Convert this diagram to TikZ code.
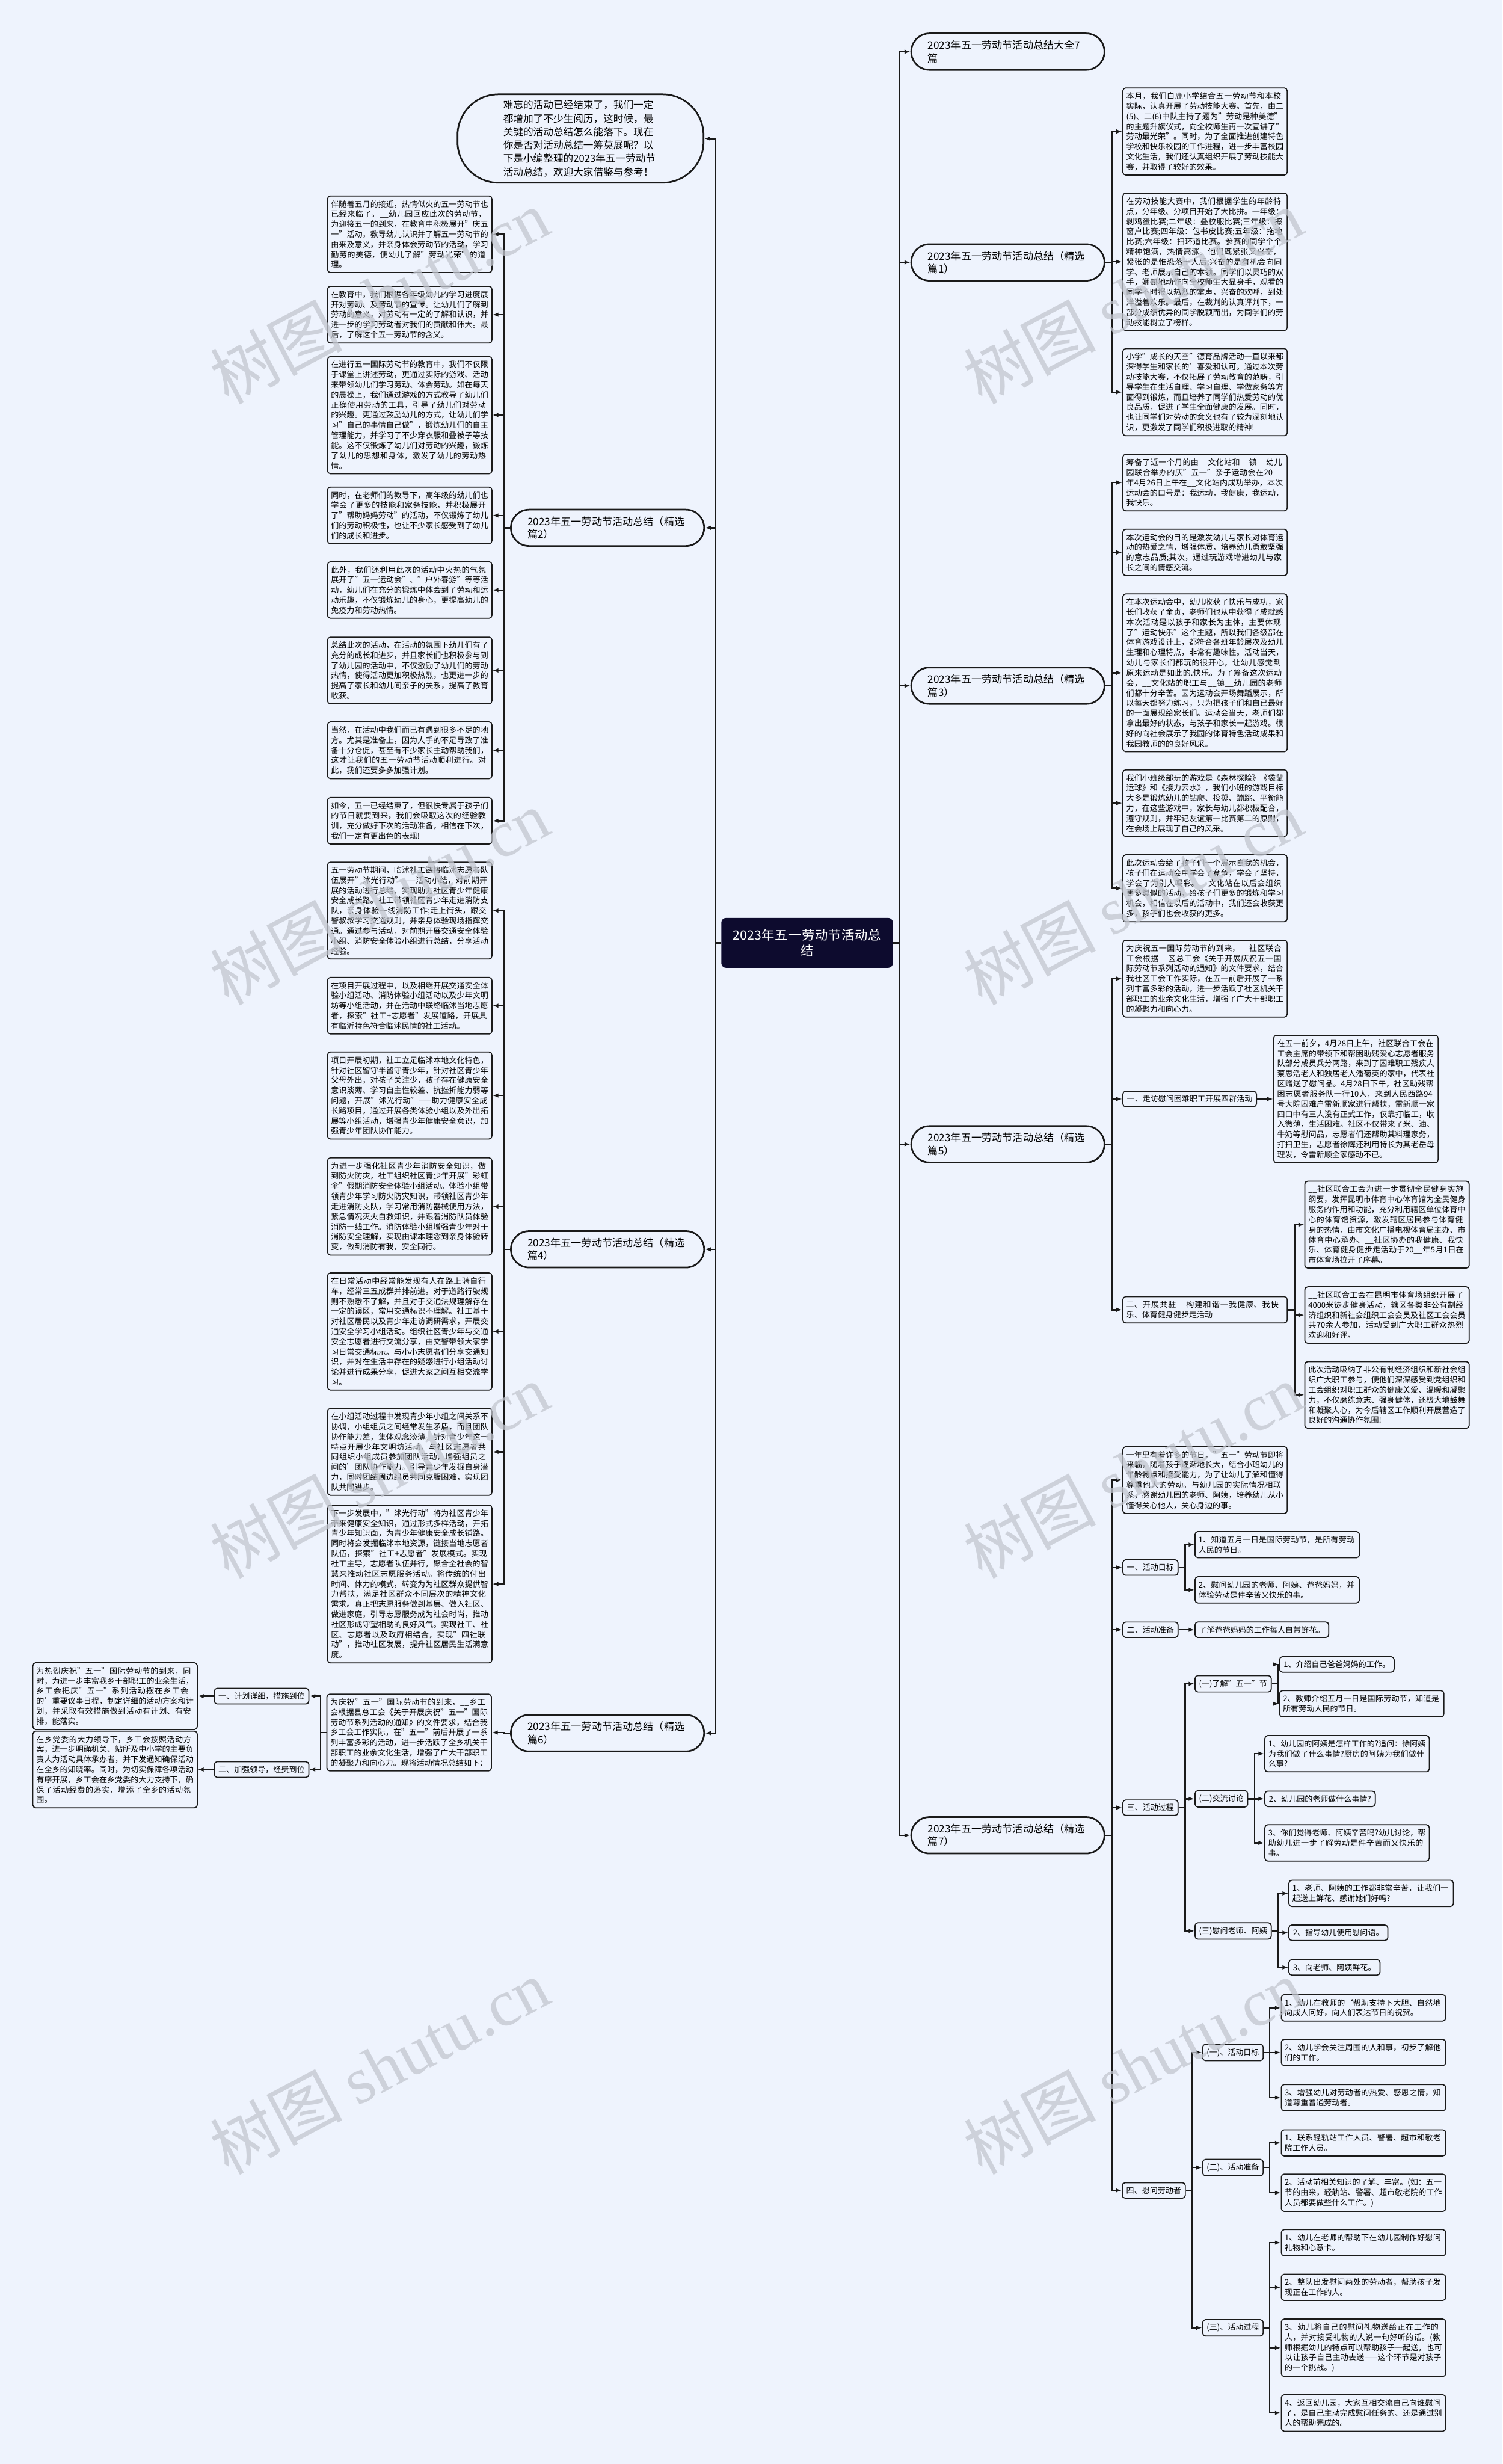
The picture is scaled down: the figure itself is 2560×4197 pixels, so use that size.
\documentclass[tikz,border=0pt]{standalone}
\usepackage{fontspec}
\usepackage{tikz}
\usetikzlibrary{arrows.meta}
\setmainfont{Noto Sans CJK SC}
\newfontfamily\filigranYazi{Liberation Serif}
\XeTeXlinebreaklocale "zh"
\XeTeXlinebreakskip=0pt plus 1pt
\definecolor{arkaPlan}{HTML}{EEF3FD}
\definecolor{lacivert}{HTML}{0D0B2E}
\definecolor{cizgiRengi}{HTML}{1A1A1A}
\definecolor{filigranGri}{HTML}{C2C6CF}

\begin{document}
\begin{tikzpicture}[x=0.01cm,y=-0.01cm,
  kutu/.style={draw=cizgiRengi,line width=0.5pt,rounded corners=0.05cm,fill=arkaPlan,text width=2.68cm,inner xsep=0.06cm,inner ysep=0.075cm,align=left,font=\fontsize{3.8pt}{4.9pt}\selectfont},
  etiket/.style={draw=cizgiRengi,line width=0.5pt,rounded corners=0.05cm,fill=arkaPlan,inner xsep=0.07cm,inner ysep=0.07cm,font=\fontsize{3.8pt}{4.9pt}\selectfont},
  baslik/.style={draw=cizgiRengi,line width=0.8pt,rounded corners=0.31cm,fill=arkaPlan,text width=2.72cm,inner xsep=0.285cm,minimum height=0.62cm,align=left,font=\fontsize{5pt}{6.2pt}\selectfont},
  giris/.style={draw=cizgiRengi,line width=0.8pt,rounded corners=0.7cm,fill=arkaPlan,text width=2.63cm,inner xsep=0.78cm,inner ysep=0.1cm,align=left,font=\fontsize{4.85pt}{6.5pt}\selectfont},
  merkez/.style={fill=lacivert,rounded corners=0.08cm,text=white,text width=2.75cm,inner xsep=0.085cm,minimum height=0.85cm,align=center,font=\fontsize{6.2pt}{7.6pt}\selectfont},
  ok/.style={draw=cizgiRengi,line width=0.7pt,-{Latex[length=0.1cm,width=0.075cm]}},
  filigran/.style={text=filigranGri,opacity=0.75,rotate=28,font=\fontsize{32pt}{32pt}\selectfont}]
\fill[arkaPlan] (0,0) rectangle (2560,4197);
\useasboundingbox (0,0) rectangle (2560,4197);

% orta dugum
\node[merkez] (kok) at (1375,1606) {2023年五一劳动节活动总\\结};

% sag taraf
\node[baslik,anchor=west] (p0) at (1551,88) {2023年五一劳动节活动总结大全7\\篇};
\node[baslik,anchor=west] (p1) at (1551,447) {2023年五一劳动节活动总结（精选\\篇1）};
\node[kutu,anchor=west] (b11) at (1912,224) {本月，我们白鹿小学结合五一劳动节和本校实际，认真开展了劳动技能大赛。首先，由二(5)、二(6)中队主持了题为"劳动是种美德"的主题升旗仪式，向全校师生再一次宣讲了"劳动最光荣"。同时，为了全面推进创建特色学校和快乐校园的工作进程，进一步丰富校园文化生活，我们还认真组织开展了劳动技能大赛，并取得了较好的效果。};
\node[kutu,anchor=west] (b12) at (1912,446) {在劳动技能大赛中，我们根据学生的年龄特点，分年级、分项目开始了大比拼。一年级：剥鸡蛋比赛;二年级：叠校服比赛;三年级：擦窗户比赛;四年级：包书皮比赛;五年级：拖地比赛;六年级：扫环道比赛。参赛的同学个个精神饱满，热情高涨。他们既紧张又兴奋，紧张的是惟恐落于人后;兴奋的是有机会向同学、老师展示自己的本领。同学们以灵巧的双手，娴熟地动作向全校师生大显身手，观看的同学不时报以热烈的掌声，兴奋的欢呼，到处洋溢着欢乐。最后，在裁判的认真评判下，一部分成绩优异的同学脱颖而出，为同学们的劳动技能树立了榜样。};
\node[kutu,anchor=west] (b13) at (1912,668) {小学"成长的天空"德育品牌活动一直以来都深得学生和家长的'喜爱和认可。通过本次劳动技能大赛，不仅拓展了劳动教育的范畴，引导学生在生活自理、学习自理、学做家务等方面得到锻炼，而且培养了同学们热爱劳动的优良品质，促进了学生全面健康的发展。同时，也让同学们对劳动的意义也有了较为深刻地认识，更激发了同学们积极进取的精神!};

\node[baslik,anchor=west] (p3) at (1551,1168) {2023年五一劳动节活动总结（精选\\篇3）};
\node[kutu,anchor=west] (c31) at (1912,822) {筹备了近一个月的由\_\_文化站和\_\_镇\_\_幼儿园联合举办的庆"五一"亲子运动会在20\_\_年4月26日上午在\_\_文化站内成功举办，本次运动会的口号是：我运动，我健康，我运动，我快乐。};
\node[kutu,anchor=west] (c32) at (1912,941) {本次运动会的目的是激发幼儿与家长对体育运动的热爱之情，增强体质，培养幼儿勇敢坚强的意志品质;其次，通过玩游戏增进幼儿与家长之间的情感交流。};
\node[kutu,anchor=west] (c33) at (1912,1146) {在本次运动会中，幼儿收获了快乐与成功，家长们收获了童贞，老师们也从中获得了成就感 本次活动是以孩子和家长为主体，主要体现了"运动快乐"这个主题，所以我们各级部在体育游戏设计上，都符合各班年龄层次及幼儿生理和心理特点，非常有趣味性。活动当天，幼儿与家长们都玩的很开心，让幼儿感觉到原来运动是如此的.快乐。为了筹备这次运动会，\_\_文化站的职工与\_\_镇\_\_幼儿园的老师们都十分辛苦。因为运动会开场舞蹈展示，所以每天都努力练习，只为把孩子们和自已最好的一面展现给家长们。运动会当天，老师们都拿出最好的状态，与孩子和家长一起游戏。很好的向社会展示了我园的体育特色活动成果和我园教师的的良好风采。};
\node[kutu,anchor=west] (c34) at (1912,1368) {我们小班级部玩的游戏是《森林探险》《袋鼠运球》和《接力云水》，我们小班的游戏目标大多是锻炼幼儿的钻爬、投掷、蹦跳、平衡能力，在这些游戏中，家长与幼儿都积极配合，遵守规则，并牢记友谊第一比赛第二的原则，在会场上展现了自己的风采。};
\node[kutu,anchor=west] (c35) at (1912,1513) {此次运动会给了孩子们一个展示自我的机会，孩子们在运动会中学会了竞争，学会了坚持，学会了为别人喝彩。\_\_文化站在以后会组织更多类似的活动，给孩子们更多的锻炼和学习机会，相信在以后的活动中，我们还会收获更多，孩子们也会收获的更多。};

\node[baslik,anchor=west] (p5) at (1551,1949) {2023年五一劳动节活动总结（精选\\篇5）};
\node[kutu,anchor=west] (d51) at (1912,1667) {为庆祝五一国际劳动节的到来，\_\_社区联合工会根据\_\_区总工会《关于开展庆祝五一国际劳动节系列活动的通知》的文件要求，结合我社区工会工作实际，在五一前后开展了一系列丰富多彩的活动，进一步活跃了社区机关干部职工的业余文化生活，增强了广大干部职工的凝聚力和向心力。};
\node[etiket,anchor=west] (d52) at (1912,1872) {一、走访慰问困难职工开展四群活动};
\node[kutu,anchor=west] (d52a) at (2169,1872) {在五一前夕，4月28日上午，社区联合工会在工会主席的带领下和帮困助残爱心志愿者服务队部分成员兵分两路，来到了困难职工残疾人蔡思浩老人和独居老人潘菊英的家中，代表社区赠送了慰问品。4月28日下午，社区助残帮困志愿者服务队一行10人，来到人民西路94号大院困难户雷新顺家进行帮扶，雷新顺一家四口中有三人没有正式工作，仅靠打临工，收入微薄，生活困难。社区不仅带来了米、油、牛奶等慰问品，志愿者们还帮助其料理家务，打扫卫生，志愿者徐辉还利用特长为其老岳母理发，令雷新顺全家感动不已。};
\node[kutu,anchor=west] (d53) at (1912,2231) {二、开展共驻\_\_构建和谐一我健康、我快乐、体育健身健步走活动};
\node[kutu,anchor=west] (d53a) at (2222,2086) {\_\_社区联合工会为进一步贯彻全民健身实施纲要，发挥昆明市体育中心体育馆为全民健身服务的作用和功能，充分利用辖区单位体育中心的体育馆资源，激发辖区居民参与体育健身的热情，由市文化广播电视体育局主办、市体育中心承办、\_\_社区协办的我健康、我快乐、体育健身健步走活动于20\_\_年5月1日在市体育场拉开了序幕。};
\node[kutu,anchor=west] (d53b) at (2222,2240) {\_\_社区联合工会在昆明市体育场组织开展了4000米徒步健身活动，辖区各类非公有制经济组织和新社会组织工会会员及社区工会会员共70余人参加，活动受到广大职工群众热烈欢迎和好评。};
\node[kutu,anchor=west] (d53c) at (2222,2376) {此次活动吸纳了非公有制经济组织和新社会组织广大职工参与，使他们深深感受到党组织和工会组织对职工群众的健康关爱、温暖和凝聚力，不仅磨练意志、强身健体，还极大地鼓舞和凝聚人心，为今后辖区工作顺利开展营造了良好的沟通协作氛围!};

\node[baslik,anchor=west] (p7) at (1551,3126) {2023年五一劳动节活动总结（精选\\篇7）};
\node[kutu,anchor=west] (e1) at (1912,2521) {一年里有着许多的节日，"五一"劳动节即将来临，随着孩子逐渐地长大，结合小班幼儿的年龄特点和接爱能力，为了让幼儿了解和懂得尊重他人的劳动。与幼儿园的实际情况相联系，感谢幼儿园的老师、阿姨，培养幼儿从小懂得关心他人，关心身边的事。};
\node[etiket,anchor=west] (e2) at (1912,2670) {一、活动目标};
\node[kutu,anchor=west] (e2a) at (2035,2631) {1、知道五月一日是国际劳动节，是所有劳动人民的节日。};
\node[kutu,anchor=west] (e2b) at (2035,2708) {2、慰问幼儿园的老师、阿姨、爸爸妈妈，并体验劳动是件辛苦又快乐的事。};
\node[etiket,anchor=west] (e3) at (1912,2776) {二、活动准备};
\node[etiket,anchor=west] (e3a) at (2035,2776) {了解爸爸妈妈的工作每人自带鲜花。};
\node[etiket,anchor=west] (e4) at (1912,3079) {三、活动过程};
\node[etiket,anchor=west] (e41) at (2035,2868) {(一)了解"五一"节};
\node[etiket,anchor=west] (e41a) at (2179,2835) {1、介绍自己爸爸妈妈的工作。};
\node[kutu,anchor=west] (e41b) at (2179,2902) {2、教师介绍五月一日是国际劳动节，知道是所有劳动人民的节日。};
\node[etiket,anchor=west] (e42) at (2035,3064) {(二)交流讨论};
\node[kutu,anchor=west] (e42a) at (2154,2987) {1、幼儿园的阿姨是怎样工作的?追问：徐阿姨为我们做了什么事情?厨房的阿姨为我们做什么事?};
\node[etiket,anchor=west] (e42b) at (2154,3064) {2、幼儿园的老师做什么事情?};
\node[kutu,anchor=west] (e42c) at (2154,3139) {3、你们觉得老师、阿姨辛苦吗?幼儿讨论，帮助幼儿进一步了解劳动是件辛苦而又快乐的事。};
\node[etiket,anchor=west] (e43) at (2035,3289) {(三)慰问老师、阿姨};
\node[kutu,anchor=west] (e43a) at (2195,3225) {1、老师、阿姨的工作都非常辛苦，让我们一起送上鲜花、感谢她们好吗?};
\node[etiket,anchor=west] (e43b) at (2195,3292) {2、指导幼儿使用慰问语。};
\node[etiket,anchor=west] (e43c) at (2195,3351) {3、向老师、阿姨鲜花。};
\node[etiket,anchor=west] (e5) at (1911,3731) {四、慰问劳动者};
\node[etiket,anchor=west] (e51) at (2048,3496) {(一)、活动目标};
\node[kutu,anchor=west] (e51a) at (2182,3420) {1、幼儿在教师的`帮助支持下大胆、自然地向成人问好，向人们表达节日的祝贺。};
\node[kutu,anchor=west] (e51b) at (2182,3496) {2、幼儿学会关注周围的人和事，初步了解他们的工作。};
\node[kutu,anchor=west] (e51c) at (2182,3573) {3、增强幼儿对劳动者的热爱、感恩之情，知道尊重普通劳动者。};
\node[etiket,anchor=west] (e52) at (2048,3692) {(二)、活动准备};
\node[kutu,anchor=west] (e52a) at (2182,3650) {1、联系轻轨站工作人员、警署、超市和敬老院工作人员。};
\node[kutu,anchor=west] (e52b) at (2182,3735) {2、活动前相关知识的了解、丰富。(如：五一节的由来，轻轨站、警署、超市敬老院的工作人员都要做些什么工作。)};
\node[etiket,anchor=west] (e53) at (2048,3965) {(三)、活动过程};
\node[kutu,anchor=west] (e53a) at (2182,3820) {1、幼儿在老师的帮助下在幼儿园制作好慰问礼物和心意卡。};
\node[kutu,anchor=west] (e53b) at (2182,3896) {2、整队出发慰问两处的劳动者，帮助孩子发现正在工作的人。};
\node[kutu,anchor=west] (e53c) at (2182,3999) {3、幼儿将自己的慰问礼物送给正在工作的人，并对接受礼物的人说一句好听的话。(教师根据幼儿的特点可以帮助孩子一起送，也可以让孩子自己主动去送——这个环节是对孩子的一个挑战。)};
\node[kutu,anchor=west] (e53d) at (2182,4110) {4、返回幼儿园，大家互相交流自己向谁慰问了，是自己主动完成慰问任务的、还是通过别人的帮助完成的。};

% sol taraf
\node[giris] (giris) at (989,236) {难忘的活动已经结束了，我们一定\\都增加了不少生阅历，这时候，最\\关键的活动总结怎么能落下。现在\\你是否对活动总结一筹莫展呢？以\\下是小编整理的2023年五一劳动节\\活动总结，欢迎大家借鉴与参考！};

\node[baslik,anchor=west] (p2) at (869,899) {2023年五一劳动节活动总结（精选\\篇2）};
\node[kutu,anchor=east] (l1) at (839,399) {伴随着五月的接近，热情似火的五一劳动节也已经来临了。\_\_幼儿园回应此次的劳动节，为迎接五一的到来，在教育中积极展开"庆五一"活动，教导幼儿认识并了解五一劳动节的由来及意义，并亲身体会劳动节的活动，学习勤劳的美德，使幼儿了解"劳动光荣"的道理。};
\node[kutu,anchor=east] (l2) at (839,536) {在教育中，我们根据各年级幼儿的学习进度展开对劳动、及劳动节的宣传。让幼儿们了解到劳动的意义，对劳动有一定的了解和认识，并进一步的学习劳动者对我们的贡献和伟大。最后，了解这个五一劳动节的含义。};
\node[kutu,anchor=east] (l3) at (839,707) {在进行五一国际劳动节的教育中，我们不仅限于课堂上讲述劳动，更通过实际的游戏、活动来带领幼儿们学习劳动、体会劳动。如在每天的晨操上，我们通过游戏的方式教导了幼儿们正确使用劳动的工具，引导了幼儿们对劳动的兴趣。更通过鼓励幼儿的方式，让幼儿们学习"自己的事情自己做"，锻炼幼儿们的自主管理能力，并学习了不少穿衣服和叠被子等技能。这不仅锻炼了幼儿们对劳动的兴趣，锻炼了幼儿的思想和身体，激发了幼儿的劳动热情。};
\node[kutu,anchor=east] (l4) at (839,878) {同时，在老师们的教导下，高年级的幼儿们也学会了更多的技能和家务技能，并积极展开了"帮助妈妈劳动"的活动，不仅锻炼了幼儿们的劳动积极性，也让不少家长感受到了幼儿们的成长和进步。};
\node[kutu,anchor=east] (l5) at (839,1005) {此外，我们还利用此次的活动中火热的气氛展开了"五一运动会"、"户外春游"等等活动，幼儿们在充分的锻炼中体会到了劳动和运动乐趣，不仅锻炼幼儿的身心，更提高幼儿的免疫力和劳动热情。};
\node[kutu,anchor=east] (l6) at (839,1142) {总结此次的活动，在活动的氛围下幼儿们有了充分的成长和进步，并且家长们也积极参与到了幼儿园的活动中，不仅激励了幼儿们的劳动热情，使得活动更加积极热烈，也更进一步的提高了家长和幼儿间亲子的关系，提高了教育收获。};
\node[kutu,anchor=east] (l7) at (839,1278) {当然，在活动中我们而已有遇到很多不足的地方。尤其是准备上，因为人手的不足导致了准备十分仓促，甚至有不少家长主动帮助我们，这才让我们的五一劳动节活动顺利进行。对此，我们还要多多加强计划。};
\node[kutu,anchor=east] (l8) at (839,1398) {如今，五一已经结束了，但很快专属于孩子们的节日就要到来，我们会吸取这次的经验教训，充分做好下次的活动准备，相信在下次，我们一定有更出色的表现!};

\node[baslik,anchor=west] (p4) at (869,2128) {2023年五一劳动节活动总结（精选\\篇4）};
\node[kutu,anchor=east] (l9) at (839,1551) {五一劳动节期间，临沭社工链接临沭志愿者队伍展开"沭光行动"——活动小结，对前期开展的活动进行总结，实现助力社区青少年健康安全成长路。社工带领社区青少年走进消防支队，亲身体验一线消防工作;走上街头，跟交警叔叔学习交通规则，并亲身体验现场指挥交通。通过参与活动，对前期开展交通安全体验小组、消防安全体验小组进行总结，分享活动经验。};
\node[kutu,anchor=east] (l10) at (839,1713) {在项目开展过程中，以及相继开展交通安全体验小组活动、消防体验小组活动以及少年文明坊等小组活动，并在活动中联络临沭当地志愿者，探索"社工+志愿者"发展道路，开展具有临沂特色符合临沭民情的社工活动。};
\node[kutu,anchor=east] (l11) at (839,1866) {项目开展初期，社工立足临沭本地文化特色，针对社区留守半留守青少年，针对社区青少年父母外出，对孩子关注少，孩子存在健康安全意识淡薄、学习自主性较差、抗挫折能力弱等问题，开展"沭光行动"——助力健康安全成长路项目，通过开展各类体验小组以及外出拓展等小组活动，增强青少年健康安全意识，加强青少年团队协作能力。};
\node[kutu,anchor=east] (l12) at (839,2055) {为进一步强化社区青少年消防安全知识，做到防火防灾，社工组织社区青少年开展"彩虹伞"假期消防安全体验小组活动。体验小组带领青少年学习防火防灾知识，带领社区青少年走进消防支队，学习常用消防器械使用方法，紧急情况灭火自救知识，并跟着消防队员体验消防一线工作。消防体验小组增强青少年对于消防安全理解，实现由课本理念到亲身体验转变，做到消防有我，安全同行。};
\node[kutu,anchor=east] (l13) at (839,2268) {在日常活动中经常能发现有人在路上骑自行车，经常三五成群并排前进。对于道路行驶规则不熟悉不了解，并且对于交通法规理解存在一定的误区，常用交通标识不理解。社工基于对社区居民以及青少年走访调研需求，开展交通安全学习小组活动。组织社区青少年与交通安全志愿者进行交流分享，由交警带领大家学习日常交通标示。与小小志愿者们分享交通知识，并对在生活中存在的疑惑进行小组活动讨论并进行成果分享，促进大家之间互相交流学习。};
\node[kutu,anchor=east] (l14) at (839,2473) {在小组活动过程中发现青少年小组之间关系不协调，小组组员之间经常发生矛盾，而且团队协作能力差，集体观念淡薄。针对青少年这一特点开展少年文明坊活动，与社区志愿者共同组织小组成员参加团队活动，增强组员之间的'团队协作能力。引导青少年发掘自身潜力，同时团结周边组员共同克服困难，实现团队共同进步。};
\node[kutu,anchor=east] (l15) at (839,2698) {下一步发展中，"沭光行动"将为社区青少年带来健康安全知识，通过形式多样活动，开拓青少年知识面，为青少年健康安全成长铺路。同时将会发掘临沭本地资源，链接当地志愿者队伍，探索"社工+志愿者"发展模式。实现社工主导，志愿者队伍并行，聚合全社会的智慧来推动社区志愿服务活动。将传统的付出时间、体力的模式，转变为为社区群众提供智力帮扶，满足社区群众不同层次的精神文化需求。真正把志愿服务做到基层、做入社区、做进家庭，引导志愿服务成为社会时尚，推动社区形成守望相助的良好风气。实现社工、社区、志愿者以及政府相结合，实现"四社联动"，推动社区发展，提升社区居民生活满意度。};

\node[baslik,anchor=west] (p6) at (869,2952) {2023年五一劳动节活动总结（精选\\篇6）};
\node[kutu,anchor=east] (m1) at (838,2951) {为庆祝"五一"国际劳动节的到来，\_\_乡工会根据县总工会《关于开展庆祝"五一"国际劳动节系列活动的通知》的文件要求，结合我乡工会工作实际，在"五一"前后开展了一系列丰富多彩的活动，进一步活跃了全乡机关干部职工的业余文化生活，增强了广大干部职工的凝聚力和向心力。现将活动情况总结如下：};
\node[etiket,anchor=east] (m2) at (527,2889) {一、计划详细，措施到位};
\node[etiket,anchor=east] (m3) at (527,3014) {二、加强领导，经费到位};
\node[kutu,anchor=east] (m2a) at (337,2889) {为热烈庆祝"五一"国际劳动节的到来，同时，为进一步丰富我乡干部职工的业余生活，乡工会把庆"五一"系列活动摆在乡工会的'重要议事日程，制定详细的活动方案和计划，并采取有效措施做到活动有计划、有安排，能落实。};
\node[kutu,anchor=east] (m3a) at (337,3014) {在乡党委的大力领导下，乡工会按照活动方案，进一步明确机关、站所及中小学的主要负责人为活动具体承办者，并下发通知确保活动在全乡的知晓率。同时，为切实保障各项活动有序开展，乡工会在乡党委的大力支持下，确保了活动经费的落实，增添了全乡的活动氛围。};

% ana gövde baglantilari
\draw[ok] (kok.east) -- ++(11,0) |- (p0.west);
\draw[ok] (kok.east) -- ++(11,0) |- (p1.west);
\draw[ok] (kok.east) -- ++(11,0) |- (p3.west);
\draw[ok] (kok.east) -- ++(11,0) |- (p5.west);
\draw[ok] (kok.east) -- ++(11,0) |- (p7.west);
\draw[ok] (kok.west) -- ++(-10,0) |- (giris.east);
\draw[ok] (kok.west) -- ++(-10,0) |- (p2.east);
\draw[ok] (kok.west) -- ++(-10,0) |- (p4.east);
\draw[ok] (kok.west) -- ++(-10,0) |- (p6.east);

% sag dallar
\draw[ok] (p1.east) -- ++(12,0) |- (b11.west);
\draw[ok] (p1.east) -- ++(12,0) |- (b12.west);
\draw[ok] (p1.east) -- ++(12,0) |- (b13.west);
\draw[ok] (p3.east) -- ++(12,0) |- (c31.west);
\draw[ok] (p3.east) -- ++(12,0) |- (c32.west);
\draw[ok] (p3.east) -- ++(12,0) |- (c33.west);
\draw[ok] (p3.east) -- ++(12,0) |- (c34.west);
\draw[ok] (p3.east) -- ++(12,0) |- (c35.west);
\draw[ok] (p5.east) -- ++(12,0) |- (d51.west);
\draw[ok] (p5.east) -- ++(12,0) |- (d52.west);
\draw[ok] (p5.east) -- ++(12,0) |- (d53.west);
\draw[ok] (d52.east) -- (d52a.west);
\draw[ok] (d53.east) -- ++(12,0) |- (d53a.west);
\draw[ok] (d53.east) -- ++(12,0) |- (d53b.west);
\draw[ok] (d53.east) -- ++(12,0) |- (d53c.west);
\draw[ok] (p7.east) -- ++(12,0) |- (e1.west);
\draw[ok] (p7.east) -- ++(12,0) |- (e2.west);
\draw[ok] (p7.east) -- ++(12,0) |- (e3.west);
\draw[ok] (p7.east) -- ++(12,0) |- (e4.west);
\draw[ok] (p7.east) -- ++(12,0) |- (e5.west);
\draw[ok] (e2.east) -- ++(11,0) |- (e2a.west);
\draw[ok] (e2.east) -- ++(11,0) |- (e2b.west);
\draw[ok] (e3.east) -- (e3a.west);
\draw[ok] (e4.east) -- ++(11,0) |- (e41.west);
\draw[ok] (e4.east) -- ++(11,0) |- (e42.west);
\draw[ok] (e4.east) -- ++(11,0) |- (e43.west);
\draw[ok] (e41.east) -- ++(11,0) |- (e41a.west);
\draw[ok] (e41.east) -- ++(11,0) |- (e41b.west);
\draw[ok] (e42.east) -- ++(11,0) |- (e42a.west);
\draw[ok] (e42.east) -- ++(11,0) |- (e42b.west);
\draw[ok] (e42.east) -- ++(11,0) |- (e42c.west);
\draw[ok] (e43.east) -- ++(10,0) |- (e43a.west);
\draw[ok] (e43.east) -- ++(10,0) |- (e43b.west);
\draw[ok] (e43.east) -- ++(10,0) |- (e43c.west);
\draw[ok] (e5.east) -- ++(11,0) |- (e51.west);
\draw[ok] (e5.east) -- ++(11,0) |- (e52.west);
\draw[ok] (e5.east) -- ++(11,0) |- (e53.west);
\draw[ok] (e51.east) -- ++(10,0) |- (e51a.west);
\draw[ok] (e51.east) -- ++(10,0) |- (e51b.west);
\draw[ok] (e51.east) -- ++(10,0) |- (e51c.west);
\draw[ok] (e52.east) -- ++(10,0) |- (e52a.west);
\draw[ok] (e52.east) -- ++(10,0) |- (e52b.west);
\draw[ok] (e53.east) -- ++(10,0) |- (e53a.west);
\draw[ok] (e53.east) -- ++(10,0) |- (e53b.west);
\draw[ok] (e53.east) -- ++(10,0) |- (e53c.west);
\draw[ok] (e53.east) -- ++(10,0) |- (e53d.west);

% sol dallar
\draw[ok] (p2.west) -- ++(-11,0) |- (l1.east);
\draw[ok] (p2.west) -- ++(-11,0) |- (l2.east);
\draw[ok] (p2.west) -- ++(-11,0) |- (l3.east);
\draw[ok] (p2.west) -- ++(-11,0) |- (l4.east);
\draw[ok] (p2.west) -- ++(-11,0) |- (l5.east);
\draw[ok] (p2.west) -- ++(-11,0) |- (l6.east);
\draw[ok] (p2.west) -- ++(-11,0) |- (l7.east);
\draw[ok] (p2.west) -- ++(-11,0) |- (l8.east);
\draw[ok] (p4.west) -- ++(-11,0) |- (l9.east);
\draw[ok] (p4.west) -- ++(-11,0) |- (l10.east);
\draw[ok] (p4.west) -- ++(-11,0) |- (l11.east);
\draw[ok] (p4.west) -- ++(-11,0) |- (l12.east);
\draw[ok] (p4.west) -- ++(-11,0) |- (l13.east);
\draw[ok] (p4.west) -- ++(-11,0) |- (l14.east);
\draw[ok] (p4.west) -- ++(-11,0) |- (l15.east);
\draw[ok] (p6.west) -- ++(-11,0) |- (m1.east);
\draw[ok] (m1.west) -- ++(-10,0) |- (m2.east);
\draw[ok] (m1.west) -- ++(-10,0) |- (m3.east);
\draw[ok] (m2.west) -- (m2a.east);
\draw[ok] (m3.west) -- (m3a.east);

% filigran
\node[filigran] (fl1) at (646,505) {树图 {\filigranYazi shutu.cn}};
\node[filigran] (fl2) at (646,1528) {树图 {\filigranYazi shutu.cn}};
\node[filigran] (fl3) at (646,2505) {树图 {\filigranYazi shutu.cn}};
\node[filigran] (fl4) at (646,3520) {树图 {\filigranYazi shutu.cn}};
\node[filigran] (fr1) at (1930,505) {树图 {\filigranYazi shutu.cn}};
\node[filigran] (fr2) at (1930,1528) {树图 {\filigranYazi shutu.cn}};
\node[filigran] (fr3) at (1930,2505) {树图 {\filigranYazi shutu.cn}};
\node[filigran] (fr4) at (1930,3520) {树图 {\filigranYazi shutu.cn}};
\end{tikzpicture}
\end{document}
